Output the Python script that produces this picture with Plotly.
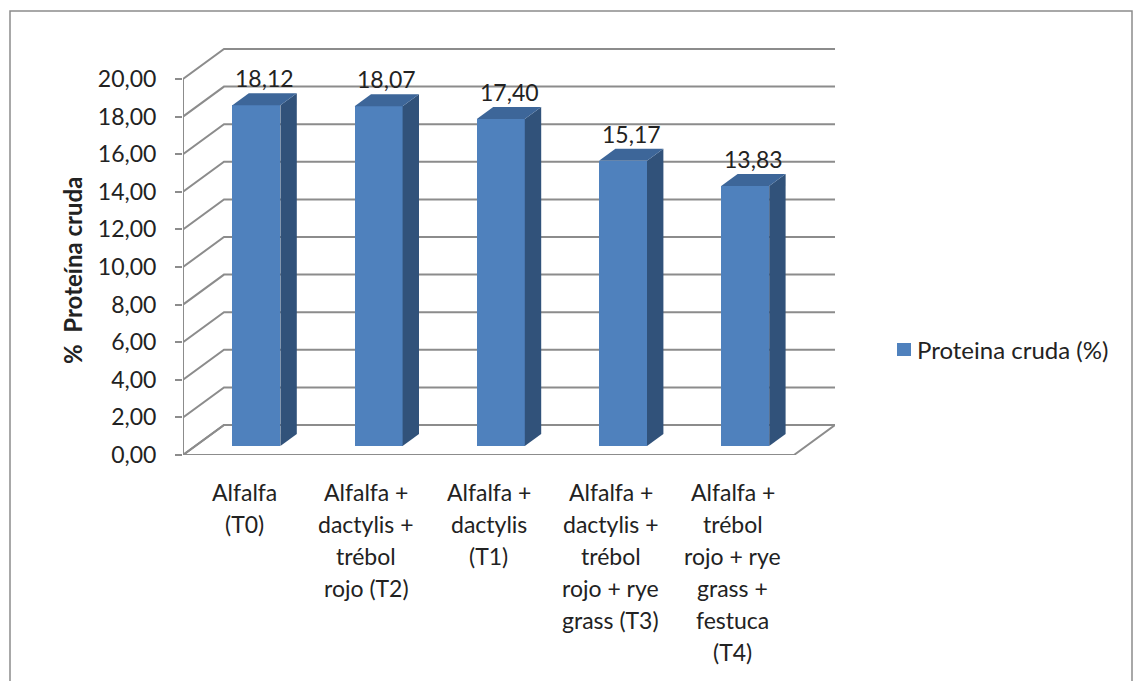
import plotly.graph_objects as go

# ---- data -------------------------------------------------------------
categories = [
    ["Alfalfa", "(T0)"],
    ["Alfalfa +", "dactylis +", "trébol", "rojo (T2)"],
    ["Alfalfa +", "dactylis", "(T1)"],
    ["Alfalfa +", "dactylis +", "trébol", "rojo + rye", "grass (T3)"],
    ["Alfalfa +", "trébol", "rojo + rye", "grass +", "festuca", "(T4)"],
]
protein = [18.12, 18.07, 17.40, 15.17, 13.83]
y_ticks = [0, 2, 4, 6, 8, 10, 12, 14, 16, 18, 20]
series_name = "Proteina cruda (%)"
axis_title = "%  Proteína cruda"


def es_num(v):
    return f"{v:.2f}".replace(".", ",")


y_tick_text = [es_num(v) for v in y_ticks]
value_labels = [es_num(v) for v in protein]

# ---- layout geometry (pixels) -----------------------------------------
W, H = 1134, 681
L, R, T, B = 183, 835, 47, 455          # plot area
PX_PER_UNIT = 18.8                       # front-axis scale
DX = 41                                  # depth offset, x (px)
DY = 30 / PX_PER_UNIT                    # depth offset, y (value units)
WALL = R - L
SLOT = (WALL - DX) / len(protein)
BAR_W = 48
D_FRONT, D_BACK = 0.3, 0.7

FRONT = "#4F81BD"
SIDE = "#31527A"
TOP = "#3D6699"
GRID = "#8C8C8C"
TXT = "#222222"
FONT = "Lato"
FS = 23


def px_x(p):
    return (p - L) / (R - L)


def px_y(p):
    return (B - p) / (B - T)


centers = [SLOT * (i + 0.5) for i in range(len(protein))]

fig = go.Figure()
fig.add_trace(go.Bar(
    x=[c + D_FRONT * DX for c in centers],
    y=protein,
    base=D_FRONT * DY,
    width=BAR_W,
    marker=dict(color=FRONT, line=dict(width=0)),
    name=series_name,
    showlegend=False,
    hoverinfo="skip",
))

shapes = []
# back wall gridlines with their diagonal on the side wall
for v in y_ticks:
    shapes.append(dict(
        type="path", xref="x", yref="y", layer="below",
        path=f"M 0,{v} L {DX},{v + DY} L {WALL},{v + DY}",
        line=dict(color=GRID, width=2),
    ))
# floor
shapes.append(dict(
    type="path", xref="x", yref="y", layer="below",
    path=f"M 0,0 L {DX},{DY} L {WALL},{DY} L {WALL - DX},0 Z",
    line=dict(color=GRID, width=2),
))
# front vertical axis
shapes.append(dict(
    type="line", xref="x", yref="y", layer="below",
    x0=0, x1=0, y0=0, y1=y_ticks[-1],
    line=dict(color=GRID, width=2),
))

# side and top faces of the bars
dd = D_BACK - D_FRONT
for c, v in zip(centers, protein):
    xl = c + D_FRONT * DX - BAR_W / 2
    xr = c + D_FRONT * DX + BAR_W / 2
    b0 = D_FRONT * DY
    t0 = b0 + v
    shapes.append(dict(
        type="path", xref="x", yref="y", layer="above",
        path=(f"M {xr},{b0} L {xr},{t0} L {xr + dd * DX},{t0 + dd * DY} "
              f"L {xr + dd * DX},{b0 + dd * DY} Z"),
        fillcolor=SIDE, line=dict(width=0),
    ))
    shapes.append(dict(
        type="path", xref="x", yref="y", layer="above",
        path=(f"M {xl},{t0} L {xr},{t0} L {xr + dd * DX},{t0 + dd * DY} "
              f"L {xl + dd * DX},{t0 + dd * DY} Z"),
        fillcolor=TOP, line=dict(width=0),
    ))

# chart frame
shapes.append(dict(
    type="rect", xref="paper", yref="paper",
    x0=px_x(10), x1=px_x(1132), y0=px_y(700), y1=px_y(11),
    line=dict(color=GRID, width=1.5), fillcolor="rgba(0,0,0,0)",
))
# legend swatch
shapes.append(dict(
    type="rect", xref="paper", yref="paper",
    x0=px_x(897), x1=px_x(911), y0=px_y(356), y1=px_y(343),
    fillcolor=FRONT, line=dict(width=0),
))

annotations = []
# value labels above the bars
for c, v, lab in zip(centers, protein, value_labels):
    annotations.append(dict(
        x=c + 0.5 * DX, y=v + D_BACK * DY, xref="x", yref="y",
        text=lab, showarrow=False, yanchor="bottom", yshift=-1,
        font=dict(family=FONT, size=FS, color=TXT),
    ))
# category labels, one line at a time
LINE_STEP = 32
for c, lines in zip(centers, categories):
    for j, line in enumerate(lines):
        annotations.append(dict(
            x=c, y=px_y(492 + LINE_STEP * j), xref="x", yref="paper",
            text=line, showarrow=False, yanchor="middle",
            font=dict(family=FONT, size=FS, color=TXT),
        ))
# y axis title
annotations.append(dict(
    x=px_x(72), y=px_y(271), xref="paper", yref="paper",
    xanchor="center", yanchor="middle",
    text=f"<b>{axis_title}</b>", textangle=-90, showarrow=False,
    font=dict(family=FONT, size=24, color=TXT),
))
# legend text
annotations.append(dict(
    x=px_x(915), y=px_y(349), xref="paper", yref="paper",
    text=series_name, showarrow=False, xanchor="left", yanchor="middle",
    font=dict(family=FONT, size=24, color=TXT),
))

fig.update_layout(
    width=W, height=H,
    margin=dict(l=L, r=W - R, t=T, b=H - B, pad=0),
    paper_bgcolor="white", plot_bgcolor="white",
    showlegend=False,
    bargap=0,
    xaxis=dict(range=[0, WALL], showgrid=False, zeroline=False,
               showticklabels=False, ticks="", showline=False, fixedrange=True),
    yaxis=dict(range=[0, (B - T) / PX_PER_UNIT], tickvals=y_ticks,
               ticktext=y_tick_text, ticks="outside", ticklen=7,
               tickcolor=GRID, tickwidth=2, showgrid=False, zeroline=False,
               showline=False, ticklabelstandoff=14,
               tickfont=dict(family=FONT, size=FS, color=TXT), fixedrange=True),
    shapes=shapes,
    annotations=annotations,
)

fig.write_html("out.html")
